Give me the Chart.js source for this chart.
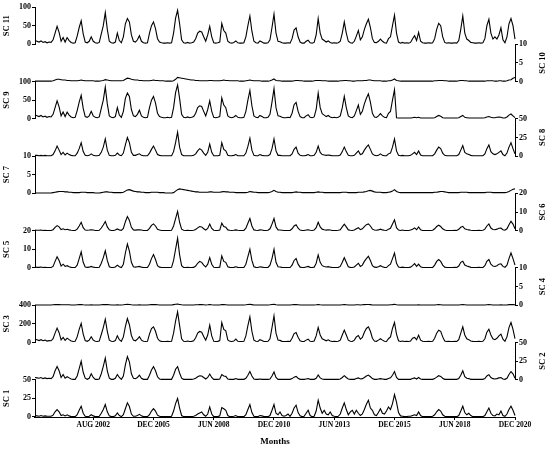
<!DOCTYPE html>
<html>
<head>
<meta charset="utf-8">
<title>SC 1 - SC 11</title>
<script src="https://cdn.jsdelivr.net/npm/chart.js@4.4.1/dist/chart.umd.min.js"></script>
<style>
    html, body { margin: 0; padding: 0; background: #fff; }
    #wrap { width: 550px; height: 450px; }
</style>
</head>
<body>
<div id="wrap"><canvas id="wykres" width="550" height="450"></canvas></div>
<script>
// Dane miesięczne (240 miesięcy), od góry do dołu
const sc11 = [
    10, 8, 6, 9, 5, 7, 4, 6, 5, 12, 30, 48, 32, 8, 18, 6, 18, 10, 5, 3,
    4, 22, 45, 63, 28, 6, 4, 8, 20, 8, 4, 3, 5, 28, 50, 85, 40, 8, 4, 3,
    6, 30, 10, 4, 20, 55, 69, 60, 25, 8, 6, 12, 23, 8, 4, 3, 4, 30, 50, 60,
    42, 15, 6, 4, 3, 3, 4, 3, 4, 30, 70, 91, 55, 12, 4, 3, 5, 3, 4, 6,
    15, 30, 35, 33, 20, 8, 25, 48, 20, 4, 3, 4, 6, 56, 37, 30, 8, 4, 3, 5,
    9, 4, 3, 3, 4, 20, 50, 76, 35, 8, 4, 3, 9, 6, 3, 3, 4, 12, 45, 81,
    30, 8, 7, 4, 3, 3, 4, 3, 15, 38, 44, 20, 6, 3, 3, 8, 11, 4, 3, 5,
    25, 69, 30, 14, 10, 6, 9, 5, 3, 4, 3, 4, 8, 30, 60, 30, 8, 4, 3, 8,
    22, 37, 12, 20, 40, 55, 67, 45, 15, 5, 4, 8, 14, 8, 4, 3, 15, 20, 50, 78,
    30, 6, 3, 5, 3, 4, 3, 5, 15, 23, 10, 32, 8, 4, 3, 3, 4, 3, 4, 15,
    40, 56, 50, 20, 5, 3, 4, 3, 3, 4, 3, 10, 40, 76, 30, 14, 10, 5, 4, 3,
    3, 4, 3, 4, 15, 50, 67, 30, 14, 20, 14, 25, 44, 12, 4, 20, 55, 69, 50, 14
];
const sc10 = [
    0.1, 0.1, 0.1, 0.1, 0.1, 0.1, 0.1, 0.1, 0.1, 0.2, 0.4, 0.6, 0.6, 0.5, 0.4, 0.4, 0.3, 0.3, 0.2, 0.2,
    0.2, 0.2, 0.3, 0.4, 0.3, 0.2, 0.2, 0.2, 0.2, 0.2, 0.1, 0.1, 0.1, 0.2, 0.3, 0.5, 0.4, 0.3, 0.2, 0.2,
    0.2, 0.2, 0.2, 0.2, 0.3, 0.6, 0.9, 0.8, 0.6, 0.5, 0.4, 0.4, 0.3, 0.3, 0.2, 0.2, 0.2, 0.2, 0.3, 0.4,
    0.3, 0.3, 0.2, 0.2, 0.2, 0.1, 0.1, 0.1, 0.1, 0.2, 0.6, 1.1, 1.0, 0.9, 0.8, 0.7, 0.6, 0.5, 0.4, 0.4,
    0.3, 0.3, 0.2, 0.2, 0.2, 0.2, 0.2, 0.3, 0.3, 0.2, 0.2, 0.2, 0.2, 0.3, 0.4, 0.3, 0.3, 0.2, 0.2, 0.2,
    0.2, 0.2, 0.1, 0.1, 0.1, 0.2, 0.3, 0.4, 0.3, 0.2, 0.2, 0.2, 0.2, 0.1, 0.1, 0.1, 0.1, 0.2, 0.4, 0.7,
    0.3, 0.2, 0.2, 0.1, 0.1, 0.1, 0.1, 0.1, 0.1, 0.2, 0.3, 0.3, 0.2, 0.2, 0.1, 0.1, 0.1, 0.1, 0.1, 0.2,
    0.3, 0.3, 0.3, 0.2, 0.2, 0.2, 0.1, 0.1, 0.1, 0.1, 0.1, 0.1, 0.2, 0.2, 0.3, 0.3, 0.2, 0.2, 0.1, 0.1,
    0.2, 0.2, 0.2, 0.2, 0.3, 0.3, 0.4, 0.4, 0.3, 0.2, 0.2, 0.2, 0.2, 0.1, 0.1, 0.1, 0.2, 0.2, 0.4, 0.7,
    0.3, 0.2, 0.1, 0.1, 0.1, 0.1, 0.1, 0.1, 0.1, 0.1, 0.1, 0.1, 0.1, 0.1, 0.1, 0.1, 0.1, 0.1, 0.1, 0.2,
    0.2, 0.3, 0.3, 0.3, 0.2, 0.2, 0.1, 0.1, 0.1, 0.1, 0.1, 0.2, 0.3, 0.3, 0.2, 0.2, 0.1, 0.1, 0.1, 0.1,
    0.1, 0.1, 0.1, 0.1, 0.1, 0.2, 0.2, 0.2, 0.2, 0.1, 0.1, 0.2, 0.2, 0.1, 0.1, 0.2, 0.4, 0.5, 0.9, 1.1
];
const sc9 = [
    10, 8, 6, 9, 5, 7, 4, 6, 5, 12, 30, 48, 32, 8, 18, 6, 18, 10, 5, 3,
    4, 22, 45, 63, 28, 6, 4, 8, 20, 8, 4, 3, 5, 28, 50, 85, 40, 8, 4, 3,
    6, 30, 10, 4, 20, 55, 69, 60, 25, 8, 6, 12, 23, 8, 4, 3, 4, 30, 50, 60,
    42, 15, 6, 4, 3, 3, 4, 3, 4, 30, 70, 91, 55, 12, 4, 3, 5, 3, 4, 6,
    15, 30, 35, 33, 20, 8, 25, 48, 20, 4, 3, 4, 6, 56, 37, 30, 8, 4, 3, 5,
    9, 4, 3, 3, 4, 20, 50, 76, 35, 8, 4, 3, 9, 6, 3, 3, 4, 12, 45, 81,
    30, 8, 7, 4, 3, 3, 4, 3, 15, 38, 44, 20, 6, 3, 3, 8, 11, 4, 3, 5,
    25, 69, 30, 14, 10, 6, 9, 5, 3, 4, 3, 4, 8, 30, 60, 30, 8, 4, 3, 8,
    22, 37, 12, 20, 40, 55, 67, 45, 15, 5, 4, 8, 14, 8, 4, 3, 15, 20, 50, 78,
    3, 2, 2, 2, 2, 2, 2, 2, 3, 4, 3, 4, 2, 2, 2, 2, 2, 2, 2, 3,
    6, 9, 7, 3, 2, 2, 2, 2, 2, 2, 2, 3, 6, 9, 4, 3, 2, 2, 2, 2,
    2, 2, 2, 2, 3, 5, 6, 4, 3, 3, 4, 4.5, 4, 2, 2, 5, 10, 13, 8, 3
];
const sc8 = [
    1, 1, 0.5, 1, 0.5, 1, 0.5, 0.5, 0.5, 2, 7, 13.5, 8, 2, 5, 1.5, 4, 2, 1, 0.5,
    0.5, 4, 10, 18, 6, 1, 0.5, 1, 3, 1, 0.5, 0.5, 1, 5, 12, 23, 8, 1, 0.5, 0.5,
    1, 4, 1.5, 0.5, 4, 15, 25, 18, 5, 1, 1, 2, 3, 1, 0.5, 0.5, 0.5, 4, 9, 13.5,
    8, 2, 1, 0.5, 0.5, 0.5, 0.5, 0.5, 0.5, 6, 18, 32, 12, 2, 0.5, 0.5, 0.5, 0.5, 0.5, 1,
    3, 7, 10, 8, 4, 1, 5, 16, 5, 0.5, 0.5, 0.5, 1, 18, 9, 7, 1, 0.5, 0.5, 1,
    2, 0.5, 0.5, 0.5, 0.5, 4, 13, 24, 8, 1, 0.5, 0.5, 2, 1, 0.5, 0.5, 0.5, 2, 10, 23,
    7, 1, 1, 0.5, 0.5, 0.5, 0.5, 0.5, 3, 9, 12, 4, 1, 0.5, 0.5, 1, 2, 0.5, 0.5, 1,
    5, 13.5, 5, 2, 1.5, 1, 1.5, 1, 0.5, 0.5, 0.5, 0.5, 1.5, 6, 12, 6, 1, 0.5, 0.5, 1,
    4, 7, 2, 3, 8, 12, 15, 9, 3, 1, 0.5, 1, 3, 1, 0.5, 0.5, 3, 4, 12, 23,
    7, 1, 0.5, 1, 0.5, 0.5, 0.5, 1, 3, 5, 2, 6.8, 1.5, 0.5, 0.5, 0.5, 0.5, 0.5, 0.5, 3,
    8, 12, 10, 4, 1, 0.5, 0.5, 0.5, 0.5, 0.5, 0.5, 2, 8, 14, 5, 3, 2, 1, 0.5, 0.5,
    0.5, 0.5, 0.5, 0.5, 3, 10, 15, 6, 3, 2, 3, 5, 7, 2, 0.5, 4, 12, 18, 10, 3
];
const sc7 = [
    0.1, 0.1, 0.1, 0.1, 0.1, 0.1, 0.1, 0.1, 0.1, 0.2, 0.3, 0.4, 0.5, 0.5, 0.5, 0.4, 0.4, 0.3, 0.3, 0.2,
    0.2, 0.2, 0.2, 0.3, 0.3, 0.3, 0.2, 0.2, 0.2, 0.2, 0.1, 0.1, 0.1, 0.2, 0.3, 0.4, 0.4, 0.3, 0.3, 0.2,
    0.2, 0.2, 0.2, 0.2, 0.3, 0.6, 0.9, 1.0, 0.8, 0.6, 0.5, 0.4, 0.4, 0.3, 0.3, 0.2, 0.2, 0.2, 0.3, 0.3,
    0.3, 0.3, 0.2, 0.2, 0.2, 0.1, 0.1, 0.1, 0.1, 0.2, 0.6, 1.0, 1.2, 1.1, 1.0, 0.9, 0.8, 0.7, 0.6, 0.5,
    0.4, 0.4, 0.3, 0.3, 0.3, 0.3, 0.3, 0.4, 0.4, 0.3, 0.3, 0.3, 0.3, 0.4, 0.5, 0.4, 0.4, 0.3, 0.3, 0.3,
    0.2, 0.2, 0.2, 0.2, 0.2, 0.2, 0.3, 0.5, 0.4, 0.3, 0.3, 0.2, 0.2, 0.2, 0.2, 0.2, 0.2, 0.3, 0.5, 0.8,
    0.5, 0.3, 0.3, 0.2, 0.2, 0.2, 0.2, 0.2, 0.2, 0.3, 0.4, 0.3, 0.3, 0.2, 0.2, 0.2, 0.2, 0.2, 0.2, 0.2,
    0.3, 0.4, 0.3, 0.3, 0.2, 0.2, 0.2, 0.2, 0.2, 0.2, 0.2, 0.2, 0.2, 0.3, 0.3, 0.3, 0.2, 0.2, 0.2, 0.2,
    0.2, 0.3, 0.3, 0.3, 0.4, 0.5, 0.7, 0.8, 0.6, 0.4, 0.3, 0.3, 0.3, 0.2, 0.2, 0.2, 0.3, 0.4, 0.6, 1.0,
    0.5, 0.3, 0.2, 0.2, 0.2, 0.2, 0.2, 0.2, 0.2, 0.2, 0.2, 0.2, 0.2, 0.2, 0.2, 0.2, 0.2, 0.2, 0.2, 0.3,
    0.3, 0.4, 0.5, 0.5, 0.4, 0.3, 0.2, 0.2, 0.2, 0.2, 0.2, 0.2, 0.3, 0.3, 0.3, 0.3, 0.2, 0.2, 0.2, 0.2,
    0.2, 0.2, 0.2, 0.2, 0.2, 0.3, 0.3, 0.3, 0.2, 0.2, 0.2, 0.2, 0.2, 0.2, 0.2, 0.3, 0.5, 0.8, 1.1, 1.2
];
const sc6 = [
    0.3, 0.2, 0.2, 0.3, 0.1, 0.2, 0.1, 0.1, 0.1, 0.5, 1.8, 2.7, 2, 0.6, 1, 0.5, 0.7, 0.4, 0.2, 0.1,
    0.1, 0.8, 2.5, 4.5, 1.6, 0.3, 0.2, 0.3, 0.5, 0.3, 0.1, 0.1, 0.2, 1.4, 3, 4.9, 2, 0.4, 0.1, 0.1,
    0.3, 0.9, 0.4, 0.1, 1.2, 4.8, 7.6, 5.5, 1.8, 0.4, 0.3, 0.4, 0.5, 0.3, 0.1, 0.1, 0.1, 1.2, 2.8, 3.6,
    2.5, 0.7, 0.3, 0.1, 0.1, 0.1, 0.1, 0.1, 0.2, 2.5, 6.5, 10.3, 4.5, 0.8, 0.2, 0.1, 0.2, 0.1, 0.1, 0.2,
    0.6, 1.5, 2.2, 2, 1, 0.3, 1.2, 3.5, 1.2, 0.2, 0.1, 0.1, 0.3, 4, 2.2, 1.8, 0.4, 0.2, 0.1, 0.2,
    0.4, 0.2, 0.1, 0.1, 0.1, 1.3, 4, 6.5, 2.5, 0.4, 0.2, 0.1, 0.4, 0.3, 0.1, 0.1, 0.2, 1, 3.5, 6.5,
    2, 0.4, 0.3, 0.2, 0.1, 0.1, 0.1, 0.1, 1, 2.5, 3.2, 1.3, 0.3, 0.1, 0.1, 0.3, 0.5, 0.2, 0.1, 0.3,
    1.6, 4.5, 2, 0.8, 0.5, 0.3, 0.5, 0.3, 0.1, 0.1, 0.1, 0.2, 0.5, 2, 3.5, 2, 0.4, 0.2, 0.1, 0.3,
    1, 1.6, 0.5, 1, 2.2, 3.2, 3.6, 2.5, 0.8, 0.3, 0.2, 0.4, 0.8, 0.4, 0.2, 0.1, 0.8, 1.3, 3.5, 5.8,
    1.6, 0.3, 0.1, 0.3, 0.1, 0.1, 0.1, 0.3, 0.8, 1.5, 0.5, 2, 0.4, 0.1, 0.1, 0.1, 0.1, 0.1, 0.2, 1,
    2.2, 2.9, 2.2, 1, 0.3, 0.1, 0.1, 0.1, 0.1, 0.2, 0.1, 0.7, 1.8, 2.3, 1, 0.6, 0.4, 0.2, 0.1, 0.1,
    0.1, 0.2, 0.1, 0.2, 0.8, 2.5, 3.6, 1.4, 0.6, 0.5, 0.8, 1.3, 1.4, 0.5, 0.2, 1, 3.2, 5, 3.5, 1
];
const sc5 = [
    0.5, 0.3, 0.3, 0.5, 0.2, 0.3, 0.2, 0.2, 0.2, 0.8, 3.5, 6, 4, 1, 2, 0.8, 1.2, 0.6, 0.3, 0.2,
    0.2, 1.5, 5, 8.6, 3, 0.5, 0.3, 0.4, 0.8, 0.4, 0.2, 0.2, 0.3, 2.5, 5.5, 9.2, 4, 0.6, 0.2, 0.2,
    0.5, 1.5, 0.6, 0.2, 2, 8, 12.8, 9, 3, 0.6, 0.4, 0.6, 0.8, 0.4, 0.2, 0.2, 0.2, 2, 5, 7.2,
    4.5, 1.2, 0.4, 0.2, 0.2, 0.2, 0.2, 0.2, 0.3, 4, 10, 15.9, 7, 1.2, 0.3, 0.2, 0.3, 0.2, 0.2, 0.3,
    1, 2.5, 3.5, 3, 1.5, 0.5, 2, 5.5, 2, 0.3, 0.2, 0.2, 0.4, 6.5, 3.5, 3, 0.6, 0.3, 0.2, 0.3,
    0.6, 0.3, 0.2, 0.2, 0.2, 2, 6, 10, 4, 0.6, 0.3, 0.2, 0.6, 0.4, 0.2, 0.2, 0.3, 1.5, 5, 10,
    3, 0.6, 0.5, 0.3, 0.2, 0.2, 0.2, 0.2, 1.5, 4, 5, 2, 0.4, 0.2, 0.2, 0.5, 0.8, 0.3, 0.2, 0.4,
    2.5, 7, 3, 1.2, 0.8, 0.5, 0.7, 0.4, 0.2, 0.2, 0.2, 0.3, 0.8, 3, 5.5, 3, 0.6, 0.3, 0.2, 0.5,
    1.5, 2.5, 0.8, 1.5, 3.5, 5, 6.3, 4, 1.2, 0.4, 0.3, 0.6, 1.2, 0.6, 0.3, 0.2, 1.2, 2, 5, 8,
    2.5, 0.5, 0.2, 0.4, 0.2, 0.2, 0.2, 0.4, 1.2, 2.3, 0.8, 2, 0.6, 0.2, 0.2, 0.2, 0.2, 0.2, 0.3, 1.5,
    3.5, 4.5, 3.5, 1.5, 0.4, 0.2, 0.2, 0.2, 0.2, 0.3, 0.2, 1, 3, 3.6, 1.5, 1, 0.7, 0.3, 0.2, 0.2,
    0.2, 0.3, 0.2, 0.3, 1.2, 3.5, 4.5, 2, 1, 0.8, 1.2, 2, 2.2, 0.8, 0.3, 1.5, 5, 8, 5, 1.5
];
const sc4 = [
    0.05, 0.05, 0.05, 0.05, 0.05, 0.05, 0.05, 0.05, 0.05, 0.1, 0.15, 0.2, 0.15, 0.1, 0.1, 0.1, 0.1, 0.1, 0.05, 0.05,
    0.05, 0.1, 0.15, 0.2, 0.1, 0.05, 0.05, 0.05, 0.1, 0.05, 0.05, 0.05, 0.05, 0.1, 0.15, 0.2, 0.15, 0.1, 0.05, 0.05,
    0.05, 0.1, 0.05, 0.05, 0.1, 0.2, 0.25, 0.2, 0.1, 0.05, 0.05, 0.05, 0.1, 0.05, 0.05, 0.05, 0.05, 0.1, 0.15, 0.2,
    0.15, 0.1, 0.05, 0.05, 0.05, 0.05, 0.05, 0.05, 0.05, 0.15, 0.25, 0.3, 0.2, 0.1, 0.05, 0.05, 0.05, 0.05, 0.05, 0.05,
    0.1, 0.1, 0.15, 0.15, 0.1, 0.05, 0.1, 0.2, 0.1, 0.05, 0.05, 0.05, 0.05, 0.2, 0.15, 0.1, 0.05, 0.05, 0.05, 0.05,
    0.05, 0.05, 0.05, 0.05, 0.05, 0.1, 0.2, 0.25, 0.15, 0.05, 0.05, 0.05, 0.05, 0.05, 0.05, 0.05, 0.05, 0.1, 0.2, 0.25,
    0.1, 0.05, 0.05, 0.05, 0.05, 0.05, 0.05, 0.05, 0.1, 0.15, 0.15, 0.1, 0.05, 0.05, 0.05, 0.05, 0.05, 0.05, 0.05, 0.05,
    0.1, 0.2, 0.1, 0.05, 0.05, 0.05, 0.05, 0.05, 0.05, 0.05, 0.05, 0.05, 0.05, 0.1, 0.15, 0.1, 0.05, 0.05, 0.05, 0.05,
    0.1, 0.1, 0.05, 0.1, 0.15, 0.2, 0.2, 0.15, 0.05, 0.05, 0.05, 0.05, 0.05, 0.05, 0.05, 0.05, 0.05, 0.1, 0.15, 0.25,
    0.1, 0.05, 0.05, 0.05, 0.05, 0.05, 0.05, 0.05, 0.05, 0.05, 0.05, 0.1, 0.05, 0.05, 0.05, 0.05, 0.05, 0.05, 0.05, 0.05,
    0.1, 0.15, 0.1, 0.05, 0.05, 0.05, 0.05, 0.05, 0.05, 0.05, 0.05, 0.05, 0.1, 0.15, 0.1, 0.05, 0.05, 0.05, 0.05, 0.05,
    0.05, 0.05, 0.05, 0.05, 0.05, 0.1, 0.15, 0.1, 0.05, 0.05, 0.05, 0.05, 0.1, 0.05, 0.05, 0.05, 0.15, 0.2, 0.15, 0.1
];
const sc3 = [
    35, 28, 20, 30, 18, 25, 15, 20, 18, 40, 100, 154, 105, 28, 54, 22, 46, 30, 15, 10,
    12, 60, 140, 204, 90, 20, 12, 25, 61, 25, 12, 10, 15, 85, 160, 250, 120, 25, 12, 10,
    20, 71, 30, 12, 60, 170, 257, 190, 75, 25, 18, 35, 61, 25, 12, 10, 12, 90, 150, 168,
    120, 45, 18, 12, 10, 10, 12, 10, 12, 100, 230, 329, 180, 40, 12, 10, 15, 10, 12, 18,
    50, 100, 118, 110, 65, 25, 80, 186, 70, 12, 10, 12, 20, 214, 140, 125, 28, 12, 10, 15,
    36, 12, 10, 10, 12, 70, 180, 275, 120, 25, 12, 10, 30, 20, 10, 10, 12, 40, 160, 286,
    100, 25, 22, 12, 10, 10, 12, 10, 45, 95, 107, 55, 18, 10, 10, 25, 35, 12, 10, 15,
    70, 161, 80, 40, 30, 18, 28, 15, 10, 12, 10, 12, 25, 80, 132, 80, 25, 12, 10, 25,
    60, 75, 35, 55, 110, 150, 168, 120, 45, 15, 12, 25, 40, 25, 12, 10, 40, 60, 150, 214,
    90, 18, 10, 15, 10, 12, 10, 15, 45, 54, 30, 79, 25, 12, 10, 10, 12, 10, 12, 45,
    100, 132, 120, 60, 15, 10, 12, 10, 10, 12, 10, 30, 100, 168, 80, 40, 30, 15, 12, 10,
    10, 12, 10, 12, 40, 110, 143, 80, 40, 30, 45, 70, 89, 35, 12, 60, 160, 214, 140, 40
];
const sc2 = [
    3, 2.5, 2, 3, 1.5, 2.5, 1.5, 2, 1.5, 4, 12, 17.6, 12, 3, 7, 2, 4, 2.5, 1, 0.5,
    0.5, 5, 15, 24.7, 10, 2, 0.5, 2, 8, 3, 0.5, 0.5, 1, 8, 18, 29, 12, 2, 0.5, 0.5,
    2, 7, 3, 0.5, 5, 20, 31, 24, 8, 2, 1.5, 3, 6, 2, 0.5, 0.5, 0.5, 6, 13, 17.6,
    12, 4, 1, 0.5, 0.5, 0.5, 0.5, 0.5, 0.5, 6, 14, 17.6, 9, 2, 0.5, 0.5, 0.5, 0.5, 0.5, 1,
    2, 4, 5.4, 5, 3, 1, 3, 7.7, 3, 0.5, 0.5, 0.5, 1, 7, 5, 4.5, 1, 0.5, 0.5, 0.5,
    1.5, 0.5, 0.5, 0.5, 0.5, 2, 6, 11, 5, 1, 0.5, 0.5, 1, 0.5, 0.5, 0.5, 0.5, 1, 5, 10.4,
    3, 0.5, 0.5, 0.5, 0.5, 0.5, 0.5, 0.5, 1.5, 3.5, 4.5, 2, 0.5, 0.5, 0.5, 1, 1.5, 0.5, 0.5, 0.5,
    2, 6.3, 2.5, 1, 0.5, 0.5, 0.5, 0.5, 0.5, 0.5, 0.5, 0.5, 1, 3, 5.4, 3, 1, 0.5, 0.5, 0.5,
    1.5, 2.5, 1, 1.5, 3, 5, 6.3, 4, 1.5, 0.5, 0.5, 1, 1.5, 1, 0.5, 0.5, 1.5, 2.5, 6, 11,
    3, 0.5, 0.5, 0.5, 0.5, 0.5, 0.5, 0.5, 1.5, 2.5, 1, 3, 1, 0.5, 0.5, 0.5, 0.5, 0.5, 0.5, 1.5,
    3.5, 5.4, 4.5, 2, 0.5, 0.5, 0.5, 0.5, 0.5, 0.5, 0.5, 1.5, 6, 12, 4, 2, 1.5, 0.5, 0.5, 0.5,
    0.5, 0.5, 0.5, 0.5, 1.5, 5, 6.8, 3, 1.5, 1, 1.5, 2.5, 3, 1, 0.5, 2, 7, 11, 8, 2
];
const sc1 = [
    2, 1.5, 1, 2, 1, 1.5, 1, 1, 1, 2.5, 7, 10, 7, 2, 3, 1.5, 3, 1.5, 0.5, 0.5,
    0.5, 3, 9, 14.5, 5, 1, 0.5, 1, 3, 1.5, 0.5, 0.5, 1, 5, 10, 16.7, 7, 1.5, 0.5, 0.5,
    1.5, 5.4, 2, 0.5, 3, 11, 19, 14, 4, 1, 1, 2, 3.6, 1.5, 0.5, 0.5, 0.5, 3, 8, 11.3,
    8, 2.5, 1, 0.5, 0.5, 0.5, 0.5, 0.5, 1, 8, 18, 24.8, 12, 2, 0.5, 0.5, 0.5, 0.5, 0.5, 1,
    2, 4, 5.5, 6.8, 3, 1, 4, 13.5, 4, 0.5, 0.5, 0.5, 1.5, 12.6, 11, 9, 2, 0.5, 0.5, 1,
    2, 0.5, 0.5, 0.5, 0.5, 3, 10, 16.7, 6, 1, 0.5, 0.5, 2, 1.5, 0.5, 0.5, 0.5, 2, 9, 16.7,
    5, 3, 6.8, 2, 1, 2, 4, 1, 5, 12, 15.8, 6, 1.5, 0.5, 1, 5, 9, 2, 0.5, 1,
    8, 22.5, 12, 5, 9, 4, 3, 6.8, 2, 1, 0.5, 1, 4, 12, 19, 10, 3, 6.8, 9, 4,
    9, 5, 2, 4, 10, 17, 22.5, 12, 9, 3, 2, 6, 11, 5, 4, 8, 13.5, 10, 18, 30,
    20, 6, 1.5, 1, 0.5, 0.5, 1, 1, 2, 3, 2, 6.8, 2, 0.5, 0.5, 0.5, 0.5, 0.5, 1, 3,
    7, 10, 8, 3, 1, 0.5, 0.5, 0.5, 0.5, 0.5, 0.5, 2, 8, 14.5, 6, 3, 5, 2, 0.5, 0.5,
    0.5, 0.5, 0.5, 0.5, 2, 7, 12, 5, 2, 1.5, 4, 3, 8, 2, 1, 4, 10, 14.5, 9, 2
];

// Panele od góry do dołu
const seriesNames = ['SC 11', 'SC 10', 'SC 9', 'SC 8', 'SC 7', 'SC 6', 'SC 5', 'SC 4', 'SC 3', 'SC 2', 'SC 1'];
const seriesData = [sc11, sc10, sc9, sc8, sc7, sc6, sc5, sc4, sc3, sc2, sc1];
const yMax = [100, 10, 100, 50, 10, 20, 20, 10, 400, 50, 50];
const yTicks = [
    [0, 50, 100], [0, 5, 10], [0, 50, 100], [0, 25, 50], [0, 5, 10], [0, 10, 20],
    [0, 10, 20], [0, 5, 10], [0, 200, 400], [0, 25, 50], [0, 25, 50]
];
const xTickIdx = [29, 59, 89, 119, 149, 179, 209, 239];
const xTickLabels = ['AUG 2002', 'DEC 2005', 'JUN 2008', 'DEC 2010', 'JUN 2013', 'DEC 2015', 'JUN 2018', 'DEC 2020'];
const months = sc11.map((_, i) => i);

const serif = "'Liberation Serif', 'Times New Roman', serif";

const scales = {
    x: {
        type: 'linear',
        min: 0,
        max: months.length - 1,
        afterBuildTicks: (axis) => { axis.ticks = xTickIdx.map(v => ({ value: v })); },
        ticks: {
            callback: (v) => xTickLabels[xTickIdx.indexOf(v)],
            autoSkip: false,
            maxRotation: 0,
            padding: 1,
            color: '#000',
            font: { family: serif, size: 7.5, weight: 'bold' }
        },
        grid: { drawOnChartArea: false, tickLength: 3, color: '#000' },
        border: { color: '#000', width: 1 },
        title: {
            display: true,
            text: 'Months',
            color: '#000',
            padding: { top: 0, bottom: 3 },
            font: { family: serif, size: 9, weight: 'bold' }
        },
        afterFit: (axis) => { axis.height = 33; }
    }
};

seriesNames.forEach((name, i) => {
    const side = i % 2 === 0 ? 'left' : 'right';
    const other = side === 'left' ? 'right' : 'left';
    scales['y' + i] = {
        type: 'linear',
        axis: 'y',
        position: side,
        stack: 'panele',
        stackWeight: 1,
        weight: side === 'left' ? 20 - i : i,
        min: 0,
        max: yMax[i],
        afterBuildTicks: (axis) => { axis.ticks = yTicks[i].map(v => ({ value: v })); },
        ticks: {
            autoSkip: false,
            padding: 1,
            color: '#000',
            font: { family: serif, size: 8, weight: 'bold' }
        },
        grid: { drawOnChartArea: false, tickLength: 3, color: '#000' },
        border: { color: '#000', width: 1 },
        title: {
            display: side === 'left',
            text: name,
            color: '#000',
            padding: { top: 2, bottom: 0 },
            font: { family: serif, size: 8.5, weight: 'bold' }
        },
        afterFit: (axis) => { axis.width = 35; }
    };
    // pusty odstęp po drugiej stronie, żeby panele się przeplatały
    scales['s' + i] = {
        type: 'linear',
        axis: 'y',
        position: other,
        stack: 'panele',
        stackWeight: 1,
        weight: other === 'left' ? 20 - i : i,
        display: false
    };
});

// Tytuły osi po prawej stronie (czytane od dołu do góry)
const prawePodpisy = {
    id: 'prawePodpisy',
    afterDraw(chart) {
        const ctx = chart.ctx;
        ctx.save();
        ctx.fillStyle = '#000';
        ctx.font = 'bold 8.5px ' + serif;
        ctx.textAlign = 'center';
        ctx.textBaseline = 'middle';
        seriesNames.forEach((name, i) => {
            if (i % 2 === 0) return;
            const s = chart.scales['y' + i];
            ctx.save();
            ctx.translate(s.right - 7, (s.top + s.bottom) / 2);
            ctx.rotate(-Math.PI / 2);
            ctx.fillText(name, 0, 0);
            ctx.restore();
        });
        ctx.restore();
    }
};

const ctx = document.getElementById('wykres').getContext('2d');
new Chart(ctx, {
    type: 'line',
    data: {
        labels: months,
        datasets: seriesData.map((d, i) => ({
            label: seriesNames[i],
            data: d,
            yAxisID: 'y' + i,
            borderColor: '#000',
            borderWidth: 1.1,
            pointRadius: 0,
            fill: false,
            tension: 0,
            clip: false
        }))
    },
    options: {
        responsive: false,
        animation: false,
        layout: { padding: { top: 7, left: 0, right: 0, bottom: 0 } },
        plugins: {
            legend: { display: false },
            tooltip: { enabled: false }
        },
        scales: scales
    },
    plugins: [prawePodpisy]
});
</script>
</body>
</html>
